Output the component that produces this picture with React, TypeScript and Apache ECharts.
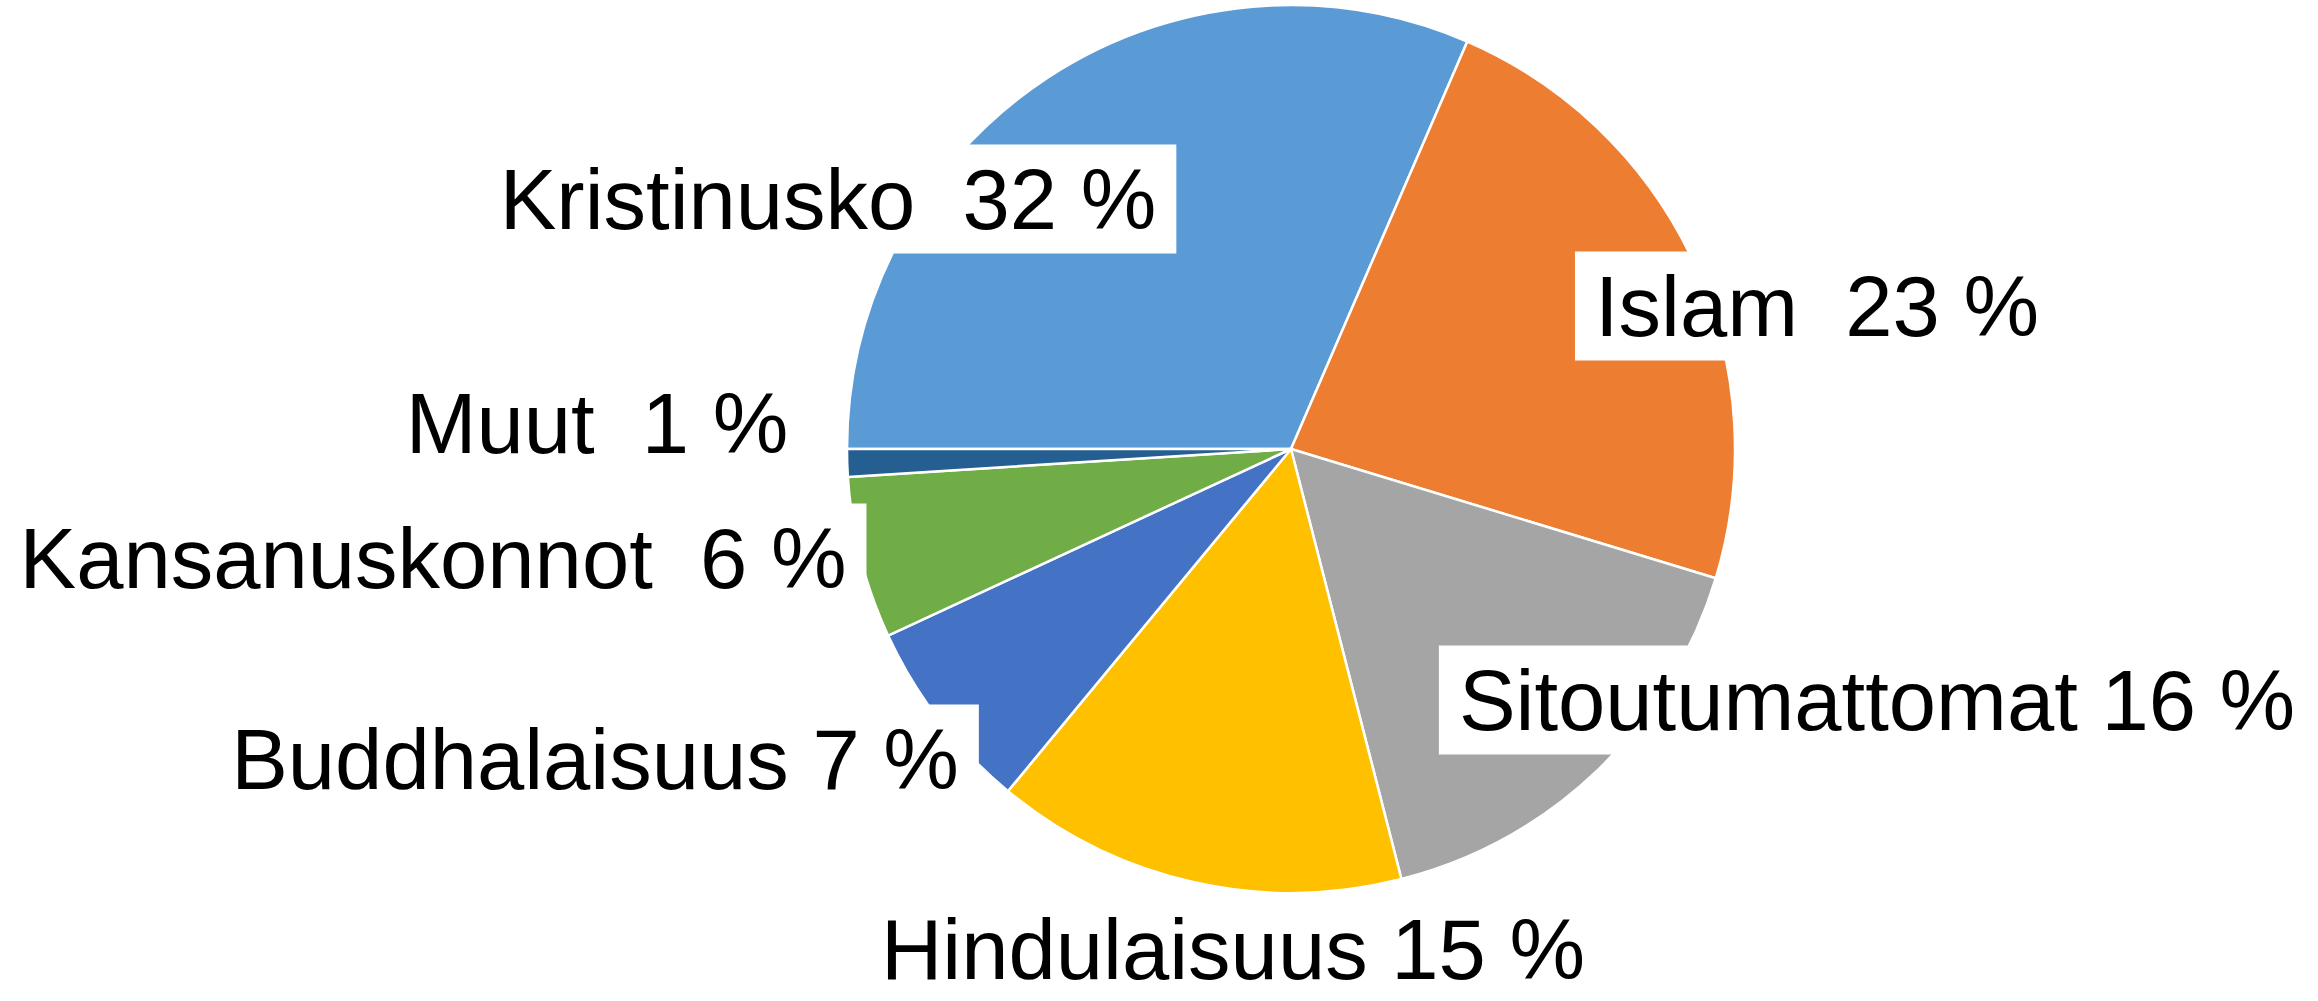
import React, { useEffect, useRef } from "react";
import * as echarts from "echarts";

const names = [
  "Kristinusko",
  "Islam",
  "Sitoutumattomat",
  "Hindulaisuus",
  "Buddhalaisuus",
  "Kansanuskonnot",
  "Muut",
];
const values = [31.5, 23.2, 16.3, 15.0, 7.1, 5.9, 1.0];
const separators = ["  ", "  ", " ", " ", " ", "  ", "  "];
const colors = ["#5B9BD5", "#ED7D31", "#A5A5A5", "#FFC000", "#4472C4", "#70AD47", "#255E91"];

// label anchor (box centre) positions in px
const labelAnchors: [number, number][] = [
  [828, 199],
  [1817, 306],
  [1877, 700],
  [1233, 949],
  [595, 759],
  [433, 558],
  [597, 423],
];
// labels drawn without a white box (they sit outside the pie)
const plainLabel = [false, false, false, true, false, false, false];

export default function App() {
  const ref = useRef<HTMLDivElement>(null);
  useEffect(() => {
    if (!ref.current) return;
    const chart = echarts.init(ref.current, null, { renderer: "svg" });
    chart.setOption({
      animation: false,
      backgroundColor: "#ffffff",
      series: [
        {
          type: "pie",
          center: [1291, 449],
          radius: 444,
          startAngle: 180,
          clockwise: true,
          avoidLabelOverlap: false,
          percentPrecision: 0,
          itemStyle: { borderColor: "#ffffff", borderWidth: 2.5 },
          emphasis: { disabled: true },
          data: names.map((n, i) => ({
            name: n,
            value: values[i],
            itemStyle: { color: colors[i] },
            label: plainLabel[i]
              ? { backgroundColor: "transparent", padding: 0 }
              : undefined,
          })),
          label: {
            show: true,
            position: "outside",
            formatter: (p: any) =>
              `${p.name}${separators[p.dataIndex]}${Math.round(p.value)} %`,
            fontFamily: "'Liberation Sans', Arial, sans-serif",
            fontSize: 85,
            color: "#000000",
            backgroundColor: "#ffffff",
            padding: [12, 20],
          },
          labelLine: { show: false },
          labelLayout: (params: any) => {
            const a = labelAnchors[params.dataIndex];
            return {
              x: a[0],
              y: a[1],
              align: "center",
              verticalAlign: "middle",
              hideOverlap: false,
            };
          },
        },
      ],
    });
    return () => chart.dispose();
  }, []);
  return (
    <div
      ref={ref}
      style={{ position: "fixed", left: 0, top: 0, width: 2318, height: 1001 }}
    />
  );
}
